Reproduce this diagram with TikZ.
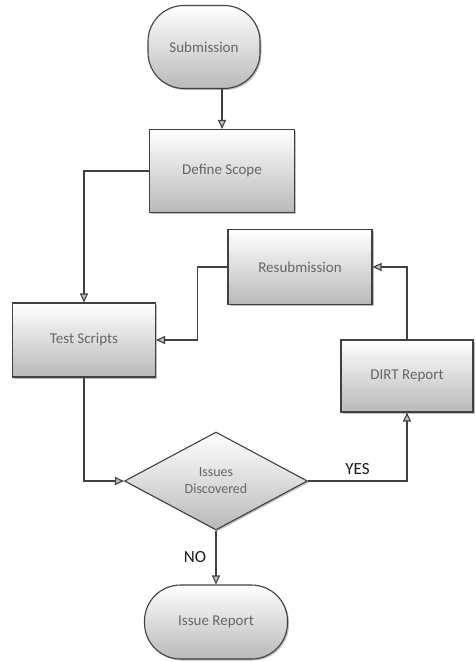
\documentclass[tikz,border=0pt]{standalone}
\usepackage{fontspec}
\setmainfont{Carlito}
\usetikzlibrary{shapes.geometric,arrows.meta,shadows}

\begin{document}
\begin{tikzpicture}
[
    x=1pt, y=-1pt,
    flowbox/.style={draw=black!75, line width=1.1pt, top color=white, bottom color=gray!55,
      drop shadow={shadow xshift=1.5pt, shadow yshift=-1.5pt, opacity=0.5},
      text=black!60, font=\fontsize{15}{18}\selectfont, inner sep=0pt, align=center},
    stepbox/.style={flowbox},
    terminal/.style={flowbox, rounded corners=36pt},
    decision/.style={flowbox, diamond, aspect=1.85, minimum width=183pt, minimum height=98pt,
      font=\fontsize{14}{17}\selectfont},
    flow/.style={draw=black!75, line width=1.1pt, -{Triangle[length=9pt, width=8pt, fill=gray!50]}},
    answer/.style={text=black!90, font=\fontsize{17}{20}\selectfont}
  ]

  \useasboundingbox (0,0) rectangle (475,662);

  \node[terminal, minimum width=112pt, minimum height=83pt] (submission) at (204,47) {Submission};
  \node[stepbox, minimum width=145pt, minimum height=83pt] (scope) at (222,171) {Define Scope};
  \node[stepbox, minimum width=143pt, minimum height=74pt] (tests) at (84,340) {Test Scripts};
  \node[stepbox, minimum width=144pt, minimum height=75pt] (resub) at (300,267) {Resubmission};
  \node[stepbox, minimum width=132pt, minimum height=72pt] (dirt) at (407,376) {DIRT Report};
  \node[decision] (issues) at (216,481) {Issues\\Discovered};
  \node[terminal, minimum width=143pt, minimum height=74pt] (report) at (216,622) {Issue Report};

  \draw[flow] (scope.north |- submission.south) -- (scope.north);
  \draw[flow] (scope.west) -| (tests.north);
  \draw[flow] (resub.west) -- ++(-30,0) |- (tests.east);
  \draw[flow] (dirt.north) |- (resub.east);
  \draw[flow] (tests.south) |- (issues.west);
  \draw[flow] (issues.east) -| node[answer, pos=0.25, above=3pt] {YES} (dirt.south);
  \draw[flow] (issues.south) -- node[answer, left=6pt] {NO} (report.north);
\end{tikzpicture}
\end{document}
